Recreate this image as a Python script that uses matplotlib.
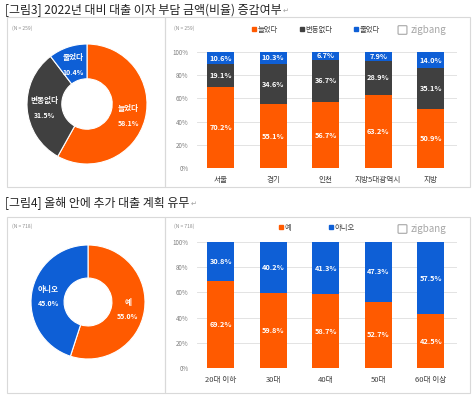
import matplotlib
matplotlib.use("Agg")
import matplotlib.pyplot as plt
import numpy as np
from matplotlib.patches import Rectangle, Patch, FancyBboxPatch

plt.rcParams['font.family'] = ['Noto Sans CJK KR', 'DejaVu Sans']

# ---------------- data ----------------
title3 = "[그림3] 2022년 대비 대출 이자 부담 금액(비율) 증감여부"
title4 = "[그림4] 올해 안에 추가 대출 계획 유무"
n3 = "(N = 259)"
n4 = "(N = 718)"

donut1_labels = ['늘었다', '변동없다', '줄었다']
donut1_values = [58.1, 31.5, 10.4]

regions = ['서울', '경기', '인천', '지방5대광역시', '지방']
increased = [70.2, 55.1, 56.7, 63.2, 50.9]
unchanged = [19.1, 34.6, 36.7, 28.9, 35.1]
decreased = [10.6, 10.3, 6.7, 7.9, 14.0]

donut2_labels = ['예', '아니오']
donut2_values = [55.0, 45.0]

ages = ['20대 이하', '30대', '40대', '50대', '60대 이상']
yes = [69.2, 59.8, 58.7, 52.7, 42.5]
no = [30.8, 40.2, 41.3, 47.3, 57.5]

yticks = [0, 20, 40, 60, 80, 100]

ORANGE = '#FF5A00'
GRAY = '#404040'
BLUE = '#0E5FD6'

W, H = 474, 397
fig = plt.figure(figsize=(W / 100, H / 100), dpi=100)
fig.patch.set_facecolor('white')


def ax_px(x0, y0, x1, y1):
    return fig.add_axes([x0 / W, 1 - y1 / H, (x1 - x0) / W, (y1 - y0) / H])


def fx(x):
    return x / W


def fy(y):
    return 1 - y / H


# panel boxes
for (x0, y0, x1, y1) in [(7, 17, 165, 187), (165, 17, 470, 187),
                         (7, 217, 165, 393), (165, 217, 470, 393)]:
    fig.patches.append(Rectangle((fx(x0), fy(y1)), fx(x1 - x0), (y1 - y0) / H,
                                 transform=fig.transFigure, fill=False,
                                 edgecolor='#D9D9D9', linewidth=0.8))

# titles
titles = []
for t, y in [(title3, 10), (title4, 203)]:
    tt = fig.text(fx(5), fy(y), t, fontsize=8.6, color='#222222', va='center', ha='left')
    titles.append((tt, y))
fig.canvas.draw()
for tt, y in titles:
    bb = tt.get_window_extent()
    fig.text(bb.x1 / W + fx(1), fy(y + 1), '↵', fontsize=5, color='#A0A0A0',
             va='center', ha='left')

# N texts
for (x, y, t) in [(12, 28, n3), (174, 28, n3), (12, 226, n4), (174, 226, n4)]:
    fig.text(fx(x), fy(y), t, fontsize=3.5, style='italic', color='#8C8C8C',
             va='center', ha='left')

# zigbang logos
for y in [30, 229]:
    fig.text(fx(411), fy(y), 'zigbang', fontsize=7, color='#A6A6A6',
             va='center', ha='left')
    fig.patches.append(FancyBboxPatch((fx(399), fy(y + 3.5)), fx(7), 7 / H,
                                      boxstyle='round,pad=0.002',
                                      transform=fig.transFigure, fill=False,
                                      edgecolor='#A6A6A6', linewidth=0.8))


def donut(ax, values, colors, labels):
    ax.pie(values, colors=colors, startangle=90, counterclock=False,
           radius=1, wedgeprops=dict(width=0.58, edgecolor='white', linewidth=0.8))
    cum = 0
    total = sum(values)
    for v, lab in zip(values, labels):
        mid = 90 - (cum + v / 2) / total * 360
        cum += v
        r = 0.71
        x, y = r * np.cos(np.radians(mid)), r * np.sin(np.radians(mid))
        ax.text(x, y + 0.11, lab, color='white', fontsize=5.5, fontweight='bold',
                style='italic', ha='center', va='center')
        ax.text(x, y - 0.14, f'{v:.1f}%', color='white', fontsize=5,
                fontweight='bold', style='italic', ha='center', va='center')
    ax.set_xlim(-1, 1)
    ax.set_ylim(-1, 1)
    ax.set_aspect('equal')
    ax.axis('off')


donut(ax_px(27, 44, 147, 164), donut1_values, [ORANGE, GRAY, BLUE], donut1_labels)
donut(ax_px(31, 245, 145, 359), donut2_values, [ORANGE, BLUE], donut2_labels)


def stacked(ax, cats, series, colors):
    x = np.arange(len(cats))
    bottom = np.zeros(len(cats))
    for vals, c in zip(series, colors):
        vals = np.array(vals)
        ax.bar(x, vals, bottom=bottom, width=0.51, color=c, zorder=3)
        for xi, b, v in zip(x, bottom, vals):
            ax.text(xi, b + v / 2, f'{v:.1f}%', color='white', fontsize=5.3,
                    fontweight='bold', style='italic', ha='center', va='center',
                    zorder=4)
        bottom += vals
    ax.set_ylim(0, 100)
    ax.set_xlim(-0.45, len(cats) - 0.5)
    ax.set_yticks(yticks)
    ax.set_yticklabels([f'{v}%' for v in yticks])
    ax.set_xticks(x)
    ax.set_xticklabels(cats)
    ax.tick_params(axis='y', labelsize=4.5, labelcolor='#7F7F7F', length=0, pad=6)
    ax.tick_params(axis='x', labelsize=5.5, labelcolor='#404040', length=0, pad=6)
    ax.grid(axis='y', color='#E3E3E3', linewidth=0.7, zorder=0)
    for s in ax.spines.values():
        s.set_visible(False)


ax3 = ax_px(197, 52, 457, 168)
stacked(ax3, regions, [increased, unchanged, decreased], [ORANGE, GRAY, BLUE])
ax4 = ax_px(197, 242, 457, 368)
stacked(ax4, ages, [yes, no], [ORANGE, BLUE])

fig.legend(handles=[Patch(color=ORANGE), Patch(color=GRAY), Patch(color=BLUE)],
           labels=donut1_labels, loc='center', bbox_to_anchor=(fx(316), fy(30)),
           ncol=3, frameon=False, fontsize=5.3, handlelength=0.5, handleheight=0.5,
           handletextpad=0.2, columnspacing=3.0, labelcolor='#404040')
fig.legend(handles=[Patch(color=ORANGE), Patch(color=BLUE)],
           labels=donut2_labels, loc='center', bbox_to_anchor=(fx(317), fy(228)),
           ncol=2, frameon=False, fontsize=5.3, handlelength=0.5, handleheight=0.5,
           handletextpad=0.2, columnspacing=5.2, labelcolor='#404040')

fig.savefig('out.png', dpi=100, facecolor='white')
